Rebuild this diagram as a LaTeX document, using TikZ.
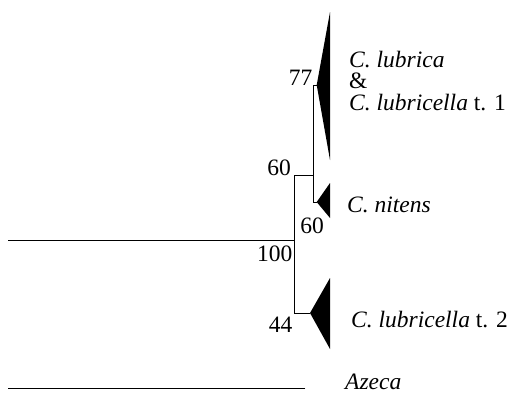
\documentclass[tikz,border=0pt]{standalone}
\usepackage{fontspec}
\setmainfont{Liberation Serif}
\usepackage{tikz}

\begin{document}
\begin{tikzpicture}[
    x=1pt, y=-1pt,
    branch/.style={line width=0.9pt, line cap=rect},
    clade/.style={fill=black},
    support/.style={font=\fontsize{23.5}{23.5}\selectfont, inner sep=0pt},
    taxon/.style={font=\fontsize{23.5}{21.5}\selectfont, inner sep=0pt, align=left}
  ]
    \useasboundingbox (0,0) rectangle (514,394);

    % tree nodes
    \coordinate (rootstart) at (8,240);
    \coordinate (root) at (294,240);
    \coordinate (nodeA) at (313,175);
    \coordinate (apexLub) at (316.7,85);
    \coordinate (apexNit) at (316.7,202);
    \coordinate (apexT2) at (310,313);
    \coordinate (azstart) at (8,388.5);
    \coordinate (azend) at (305,388.5);

    % branches
    \draw[branch] (rootstart) -- (root);
    \draw[branch] (nodeA) -- (nodeA -| root) -- (apexT2 -| root) -- (apexT2);
    \draw[branch] (apexLub) -- (apexLub -| nodeA) -- (apexNit -| nodeA) -- (apexNit);
    \draw[branch] (azstart) -- (azend);

    % collapsed clades
    \fill[clade] (apexLub) -- ++(13.3,-73) -- ++(0,148) -- cycle;
    \fill[clade] (apexNit) -- ++(13.3,-19) -- ++(0,35) -- cycle;
    \fill[clade] (apexT2) -- ++(20,-35) -- ++(0,71) -- cycle;

    % support values
    \node[support, anchor=base east] (s77) at (312.5,85) {77};
    \node[support, anchor=base east] (s60a) at (291,175) {60};
    \node[support, anchor=base] (s60b) at (312,233) {60};
    \node[support, anchor=base east] (s100) at (292.5,261) {100};
    \node[support, anchor=base east] (s44) at (292.5,332) {44};

    % taxa
    \node[taxon, anchor=west] (lub) at (349,81) {\textit{C. lubrica}\\\&\\\textit{C. lubricella} t. 1};
    \node[taxon, anchor=base west] (nit) at (347,212) {\textit{C. nitens}};
    \node[taxon, anchor=base west] (lub2) at (351,327) {\textit{C. lubricella} t. 2};
    \node[taxon, anchor=base west] (aze) at (345,389.5) {\textit{Azeca}};
  \end{tikzpicture}
\end{document}
